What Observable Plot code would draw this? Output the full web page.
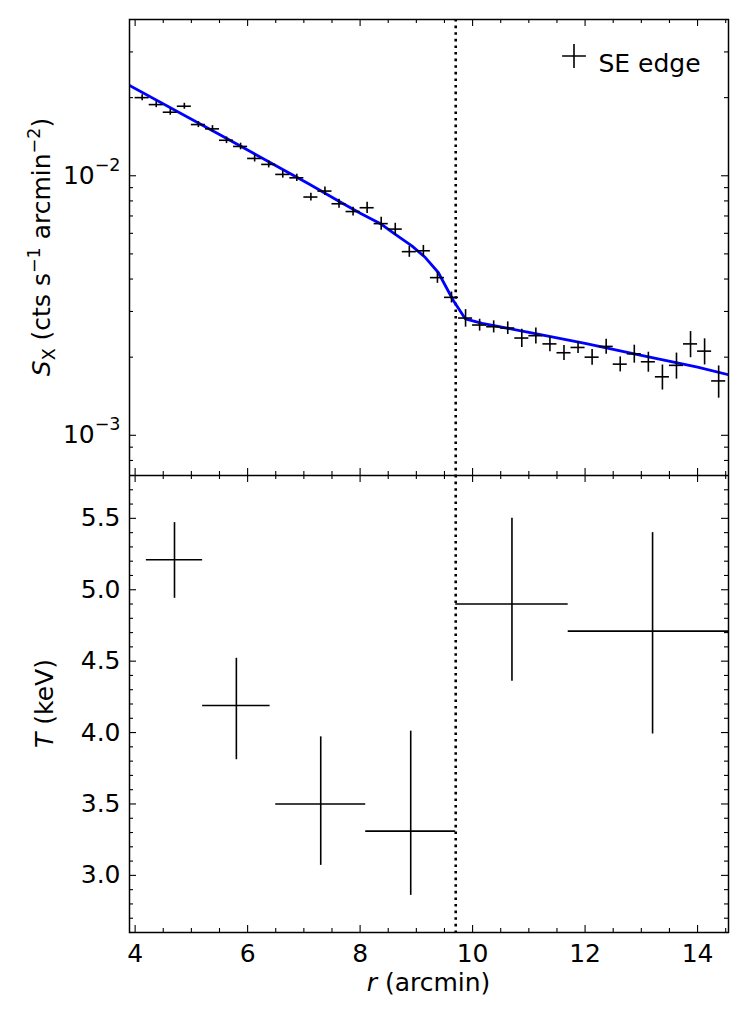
<!DOCTYPE html>
<html><head><meta charset="utf-8">
<script src="https://cdn.jsdelivr.net/npm/d3@7"></script>
<script src="https://cdn.jsdelivr.net/npm/@observablehq/plot@0.6"></script>
<style>
html,body{margin:0;padding:0;background:#fff;overflow:hidden}
#chart svg{display:block;max-width:none}
#chart text{white-space:pre}
</style></head><body><div id="chart"></div>
<script>
// ---- Surface brightness profile (top panel) ----
const sxR = [4.125,4.375,4.625,4.875,5.125,5.375,5.625,5.875,6.125,6.375,6.625,6.875,7.125,7.375,7.625,7.875,8.125,8.375,8.625,8.875,9.125,9.375,9.625,9.875,10.125,10.375,10.625,10.875,11.125,11.375,11.625,11.875,12.125,12.375,12.625,12.875,13.125,13.375,13.625,13.875,14.125,14.375];
const sxVal = [0.0200,0.0188,0.01757,0.01853,0.01575,0.01516,0.0137,0.01297,0.01166,0.01106,0.01012,0.00982,0.00828,0.00873,0.0078,0.00728,0.00753,0.00654,0.00623,0.0051,0.00514,0.00405,0.0034,0.00283,0.00266,0.00262,0.00259,0.00237,0.00242,0.00225,0.00208,0.00218,0.0020,0.0022,0.00188,0.00206,0.00192,0.00168,0.00186,0.00225,0.00211,0.00162];
const sxErr = [0.00053,0.00050,0.00047,0.00049,0.00042,0.00044,0.00040,0.00038,0.00036,0.00034,0.00033,0.00032,0.00029,0.00033,0.00031,0.00029,0.00037,0.00038,0.00033,0.00025,0.00025,0.00020,0.000165,0.00022,0.00014,0.00014,0.000145,0.00019,0.00017,0.00015,0.00014,0.000116,0.00014,0.000146,0.000125,0.000164,0.00017,0.000186,0.000214,0.00026,0.000243,0.00023];
const sxBinHalfWidth = 0.125;
// best-fit model curve
const modelR = [3.9,5.5,7.1,7.67,8.02,8.38,8.62,8.92,9.16,9.39,9.66,9.87,10.17,11.0,12.0,13.0,14.0,14.6];
const modelVal = [0.02228,0.01442,0.00927,0.00787,0.00714,0.00650,0.00596,0.00537,0.00484,0.00424,0.00330,0.00281,0.00270,0.00249,0.00226,0.00203,0.00183,0.00170];
// ---- Temperature profile (bottom panel) ----
const tR = [4.7,5.8,7.3,8.9,10.7,13.2];
const tRErr = [0.5,0.6,0.8,0.8,1.0,1.5];
const tVal = [5.21,4.19,3.50,3.31,4.90,4.71];
const tErrLo = [0.27,0.38,0.43,0.45,0.54,0.72];
const tErrHi = [0.26,0.33,0.47,0.70,0.60,0.69];
const edgeR = 9.7;
const legendLabel = "SE edge";
// ---- ticks ----
const xMajorTicks = [4,6,8,10,12,14];
const xMinorTicks = [4.5,5,5.5,6.5,7,7.5,8.5,9,9.5,10.5,11,11.5,12.5,13,13.5,14.5];
const sxMajorTicks = [1e-3,1e-2];
const sxMinorTicks = [8e-4,9e-4,2e-3,3e-3,4e-3,5e-3,6e-3,7e-3,8e-3,9e-3,2e-2,3e-2];
const tMajorTicks = [3.0,3.5,4.0,4.5,5.0,5.5];
const tMinorTicks = [2.6,2.7,2.8,2.9,3.1,3.2,3.3,3.4,3.6,3.7,3.8,3.9,4.1,4.2,4.3,4.4,4.6,4.7,4.8,4.9,5.1,5.2,5.3,5.4,5.6,5.7,5.8];

(function () {
const sxData = sxR.map((r,i)=>({r, s:sxVal[i], e:sxErr[i]}));
const model = modelR.map((r,i)=>({r, s:modelVal[i]}));
const tData = tR.map((r,i)=>({r, re:tRErr[i], t:tVal[i], lo:tErrLo[i], hi:tErrHi[i]}));

const W = 747, ML = 129, MR = 19;
const IW = W - ML - MR;
const MAJ = 7, MIN = 4;
const FONT = "DejaVu Sans";
const FS = 25, FS_SUP = 17.5;

function frameTicks(xMaj, xMin, yMaj, yMin, ih) {
  const o = {stroke:"black", strokeWidth:1.1};
  return [
    Plot.tickX(xMaj, {x:d=>d, insetTop: ih-MAJ, ...o}),
    Plot.tickX(xMaj, {x:d=>d, insetBottom: ih-MAJ, ...o}),
    Plot.tickX(xMin, {x:d=>d, insetTop: ih-MIN, ...o}),
    Plot.tickX(xMin, {x:d=>d, insetBottom: ih-MIN, ...o}),
    Plot.tickY(yMaj, {y:d=>d, insetRight: IW-MAJ, ...o}),
    Plot.tickY(yMaj, {y:d=>d, insetLeft: IW-MAJ, ...o}),
    Plot.tickY(yMin, {y:d=>d, insetRight: IW-MIN, ...o}),
    Plot.tickY(yMin, {y:d=>d, insetLeft: IW-MIN, ...o})
  ];
}

const xDomain = [3.9, 14.55];
const topH = 475, topMT = 19;
const topPlot = Plot.plot({
  width: W, height: topH, marginTop: topMT, marginBottom: 0, marginLeft: ML, marginRight: MR,
  style: {fontFamily: FONT, fontSize: FS + "px", color: "black", background: "transparent"},
  x: {domain: xDomain, axis: null},
  y: {type: "log", domain: [7e-4, 0.04]},
  marks: [
    Plot.ruleX([edgeR], {x:d=>d, stroke:"black", strokeWidth:2.6, strokeDasharray:"2.6,4"}),
    Plot.line(model, {x:"r", y:"s", stroke:"#0000ff", strokeWidth:2.8, clip:true}),
    Plot.ruleX(sxData, {x:"r", y1:d=>d.s-d.e, y2:d=>d.s+d.e, stroke:"black", strokeWidth:1.6}),
    Plot.ruleY(sxData, {y:"s", x1:d=>d.r-sxBinHalfWidth, x2:d=>d.r+sxBinHalfWidth, stroke:"black", strokeWidth:1.6}),
    Plot.frame({stroke:"black", strokeWidth:1.5}),
    ...frameTicks(xMajorTicks, xMinorTicks, sxMajorTicks, sxMinorTicks, topH-topMT),
    Plot.axisY({ticks: sxMajorTicks, tickSize:0, tickPadding:9, label:null, fontSize:FS,
      tickFormat: d => "10^" + Math.round(Math.log10(d))}),
    Plot.dot([legendLabel], {frameAnchor:"top-right", dx:-154.5, dy:36.5, symbol:"plus", r:7.7, stroke:"black", strokeWidth:1.6}),
    Plot.text([legendLabel], {frameAnchor:"top-right", dx:-130, dy:35, text:d=>d, textAnchor:"start", fontSize:FS, fill:"black"})
  ]
});

const botH = 544, botMB = 87;
const bottomPlot = Plot.plot({
  width: W, height: botH, marginTop: 0, marginBottom: botMB, marginLeft: ML, marginRight: MR,
  style: {fontFamily: FONT, fontSize: FS + "px", color: "black", background: "transparent"},
  x: {domain: xDomain},
  y: {domain: [2.6, 5.8]},
  marks: [
    Plot.ruleX([edgeR], {x:d=>d, stroke:"black", strokeWidth:2.6, strokeDasharray:"2.6,4"}),
    Plot.ruleX(tData, {x:"r", y1:d=>d.t-d.lo, y2:d=>d.t+d.hi, stroke:"black", strokeWidth:1.6, clip:true}),
    Plot.ruleY(tData, {y:"t", x1:d=>d.r-d.re, x2:d=>d.r+d.re, stroke:"black", strokeWidth:1.6, clip:true}),
    Plot.frame({stroke:"black", strokeWidth:1.5}),
    ...frameTicks(xMajorTicks, xMinorTicks, tMajorTicks, tMinorTicks, botH-botMB),
    Plot.axisY({ticks: tMajorTicks, tickSize:0, tickPadding:9, label:null, fontSize:FS, tickFormat: d3.format(".1f")}),
    Plot.axisX({ticks: xMajorTicks, tickSize:0, tickPadding:12, label:null, fontSize:FS, tickFormat: d3.format("d")})
  ]
});

// superscript exponents on log tick labels
const svgNS = "http://www.w3.org/2000/svg";
topPlot.querySelectorAll("text").forEach(t => {
  const m = t.textContent.match(/^10\^(-?\d+)$/);
  if (m) {
    t.textContent = "10";
    const ts = document.createElementNS(svgNS, "tspan");
    ts.setAttribute("dy", "-13");
    ts.setAttribute("font-size", FS_SUP);
    ts.textContent = m[1].replace("-", "\u2212");
    t.appendChild(ts);
  }
});

// axis titles
function addLabel(svg, x, y, rot, parts) {
  const t = d3.select(svg).append("text")
    .attr("transform", `translate(${x},${y}) rotate(${rot})`)
    .attr("text-anchor", "middle").attr("font-family", FONT).attr("font-size", FS).attr("fill", "black");
  parts.forEach(p => {
    const s = t.append("tspan").text(p.text);
    if (p.italic) s.attr("font-style", "italic");
    if (p.size) s.attr("font-size", p.size);
    if (p.dy) s.attr("dy", p.dy);
  });
}
addLabel(topPlot, 50, (topMT + topH) / 2, -90, [
  {text:"S", italic:true}, {text:"X", size:FS_SUP, dy:5}, {text:" (cts s", dy:-5},
  {text:"\u22121", size:FS_SUP, dy:-10}, {text:" arcmin", dy:10}, {text:"\u22122", size:FS_SUP, dy:-10}, {text:")", dy:10}
]);
addLabel(bottomPlot, 53, (botH - botMB) / 2, -90, [{text:"T", italic:true}, {text:" (keV)"}]);
addLabel(bottomPlot, ML + IW / 2, 516, 0, [{text:"r", italic:true}, {text:" (arcmin)"}]);

const chart = document.getElementById("chart");
chart.appendChild(topPlot);
chart.appendChild(bottomPlot);
})();
</script></body></html>
